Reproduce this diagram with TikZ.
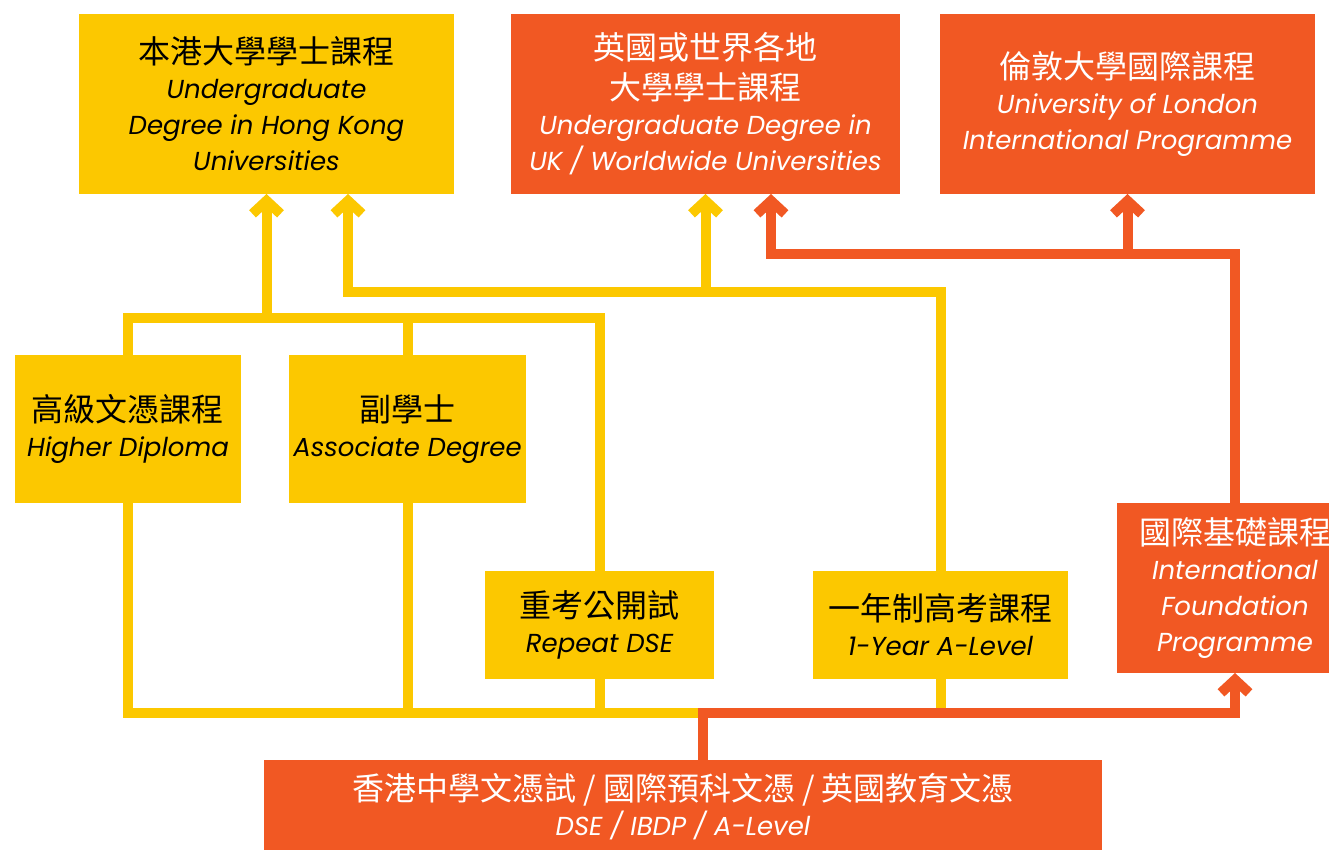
\documentclass[tikz,border=0pt]{standalone}
\usepackage{fontspec}
\usetikzlibrary{arrows.meta}
\newfontfamily\cjk{Noto Sans CJK TC}
\newfontfamily\enit{Poppins Italic}
\definecolor{ylw}{RGB}{252,200,0}
\definecolor{org}{RGB}{241,88,35}
\newcommand\cnf{\cjk\fontsize{16pt}{18pt}\selectfont}
\newcommand\enf{\enit\fontsize{13pt}{18pt}\selectfont}
\tikzset{
  box/.style={inner sep=0pt, outer sep=0pt, align=center, font=\enf},
  ybox/.style={box, fill=ylw, text=black},
  obox/.style={box, fill=org, text=white},
  yl/.style={draw=ylw, line width=5pt},
  ol/.style={draw=org, line width=5pt},
  tipend/.style={-{Straight Barb[length=6.5pt,width=14pt]}},
  tipstart/.style={{Straight Barb[length=6.5pt,width=14pt]}-},
}
\begin{document}
\begin{tikzpicture}[x=0.5pt,y=-0.5pt]
\useasboundingbox (0,0) rectangle (1329,850);
\clip (0,0) rectangle (1329,850);
\fill[white] (0,0) rectangle (1329,850);
% boxes
\node[ybox, minimum width=187.5pt, minimum height=90pt] (b1) at (266.5,104)
  {{\cnf 本港大學學士課程}\\[-0.5pt] Undergraduate\\ Degree in Hong Kong\\ Universities};
\node[obox, minimum width=194.5pt, minimum height=90pt] (b2) at (705.5,104)
  {{\cnf 英國或世界各地}\\[2pt]{\cnf 大學學士課程}\\[-0.5pt] Undergraduate Degree in\\ UK / Worldwide Universities};
\node[obox, minimum width=187.5pt, minimum height=90pt] (b3) at (1127.5,104)
  {{\cnf 倫敦大學國際課程}\\[-0.5pt] University of London\\ International Programme};
\node[ybox, minimum width=113pt, minimum height=74pt] (hd) at (128,429)
  {{\cnf 高級文憑課程}\\[-0.5pt] Higher Diploma};
\node[ybox, minimum width=118.5pt, minimum height=74pt] (ad) at (407.5,429)
  {{\cnf 副學士}\\[-0.5pt] Associate Degree};
\node[ybox, minimum width=114.5pt, minimum height=54pt] (rd) at (599.5,625)
  {{\cnf 重考公開試}\\[-0.5pt] Repeat DSE};
\node[ybox, minimum width=127.5pt, minimum height=54pt] (al) at (940.5,625)
  {{\cnf 一年制高考課程}\\[-0.5pt] 1-Year A-Level};
\node[obox, minimum width=118pt, minimum height=85pt] (ifp) at (1235,588)
  {{\cnf 國際基礎課程}\\[-0.5pt] International\\ Foundation\\ Programme};
\node[obox, minimum width=419pt, minimum height=47pt] (dse) at (683,807)
  {{\cnf 香港中學文憑試 / 國際預科文憑 / 英國教育文憑}\\[-0.5pt] DSE / IBDP / A-Level};
% junction levels and free ends
\coordinate (ya) at (0,318);
\coordinate (yb) at (0,292);
\coordinate (yc) at (0,713);
\coordinate (yd) at (0,254);
\coordinate (b1r) at (348,194);
\coordinate (b2r) at (771,194);
\coordinate (dsetop) at (703,760);
% yellow connectors
\draw[yl] (hd.north) |- (rd.north |- ya) -- (rd.north);
\draw[yl] (ad.north) -- (ad.north |- ya);
\draw[yl, tipend] (b1.south |- ya) -- (b1.south);
\draw[yl, tipstart] (b1r) |- (al.north |- yb) -- (al.north);
\draw[yl, tipend] (b2.south |- yb) -- (b2.south);
\draw[yl] (hd.south) |- (al.south |- yc) -- (al.south);
\draw[yl] (ad.south) -- (ad.south |- yc);
\draw[yl] (rd.south) -- (rd.south |- yc);
% orange connectors
\draw[ol, tipend] (dsetop) |- (ifp.south |- yc) -- (ifp.south);
\draw[ol, tipend] (ifp.north) |- (b2r |- yd) -- (b2r);
\draw[ol, tipend] (b3.south |- yd) -- (b3.south);
\end{tikzpicture}
\end{document}
